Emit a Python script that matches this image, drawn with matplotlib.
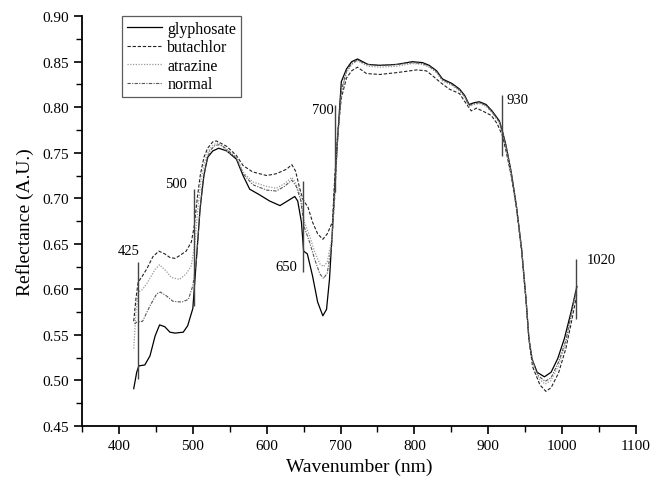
import matplotlib
matplotlib.use("Agg")
import matplotlib.pyplot as plt
from matplotlib.ticker import MultipleLocator

plt.rcParams['font.family'] = ['Liberation Serif', 'DejaVu Serif']

# spectra (wavelength nm, reflectance)
glyphosate_wl = [420, 424, 427, 435, 442, 449, 455, 462, 469, 476,
                 487, 493, 500, 505, 510, 515, 520, 527, 535, 546,
                 559, 568, 577, 590, 604, 618, 628, 638, 642, 647,
                 650, 655, 662, 669, 676, 681, 685, 689, 694, 701,
                 708, 715, 723, 730, 737, 753, 776, 797, 811, 820,
                 830, 838, 851, 861, 868, 874, 881, 888, 897, 905,
                 915, 919, 924, 931, 938, 945, 951, 955, 959, 966,
                 976, 985, 994, 1003, 1012, 1020]
glyphosate = [0.491, 0.509, 0.516, 0.517, 0.527, 0.549, 0.561, 0.559, 0.553, 0.552,
              0.553, 0.560, 0.579, 0.635, 0.690, 0.725, 0.745, 0.752, 0.755, 0.752,
              0.743, 0.725, 0.710, 0.704, 0.697, 0.692, 0.697, 0.702, 0.697, 0.674,
              0.642, 0.639, 0.615, 0.586, 0.571, 0.578, 0.611, 0.666, 0.740, 0.828,
              0.842, 0.850, 0.853, 0.850, 0.847, 0.846, 0.847, 0.850, 0.849, 0.846,
              0.840, 0.831, 0.826, 0.820, 0.813, 0.803, 0.805, 0.806, 0.803, 0.796,
              0.785, 0.774, 0.758, 0.729, 0.692, 0.645, 0.590, 0.546, 0.524, 0.509,
              0.504, 0.509, 0.524, 0.546, 0.575, 0.603]

butachlor_wl = [420, 423, 426, 432, 438, 446, 454, 462, 469, 476,
                482, 491, 498, 502, 506, 510, 515, 520, 527, 532,
                546, 559, 568, 581, 600, 613, 627, 634, 639, 645,
                649, 656, 662, 669, 676, 682, 689, 692, 696, 701,
                708, 715, 723, 735, 753, 776, 803, 816, 824, 834,
                847, 861, 870, 877, 884, 892, 904, 912, 919, 924,
                931, 938, 945, 951, 955, 960, 970, 978, 985, 995,
                1005, 1012, 1020]
butachlor = [0.565, 0.590, 0.608, 0.615, 0.623, 0.636, 0.642, 0.639, 0.635, 0.634,
             0.637, 0.642, 0.652, 0.670, 0.700, 0.725, 0.745, 0.755, 0.762, 0.763,
             0.757, 0.747, 0.736, 0.729, 0.725, 0.727, 0.732, 0.737, 0.730, 0.710,
             0.699, 0.690, 0.674, 0.661, 0.655, 0.661, 0.674, 0.721, 0.770, 0.810,
             0.832, 0.840, 0.844, 0.837, 0.836, 0.838, 0.841, 0.840, 0.835, 0.828,
             0.820, 0.815, 0.804, 0.796, 0.799, 0.796, 0.791, 0.782, 0.769, 0.752,
             0.725, 0.690, 0.643, 0.588, 0.545, 0.515, 0.495, 0.488, 0.492, 0.508,
             0.535, 0.562, 0.595]

atrazine_wl = [420, 423, 426, 432, 439, 449, 455, 464, 471, 482,
               491, 498, 503, 507, 511, 516, 521, 528, 535, 546,
               559, 568, 581, 600, 613, 624, 634, 640, 646, 651,
               658, 665, 672, 677, 682, 688, 692, 696, 701, 708,
               715, 723, 730, 737, 753, 776, 797, 811, 820, 830,
               838, 851, 861, 868, 874, 881, 888, 897, 905, 915,
               919, 924, 931, 938, 945, 951, 955, 960, 968, 977,
               985, 995, 1005, 1012, 1020]
atrazine = [0.535, 0.575, 0.597, 0.600, 0.608, 0.622, 0.627, 0.620, 0.613, 0.611,
            0.617, 0.626, 0.652, 0.690, 0.720, 0.740, 0.752, 0.759, 0.761, 0.752,
            0.745, 0.729, 0.718, 0.713, 0.711, 0.716, 0.723, 0.716, 0.703, 0.674,
            0.659, 0.641, 0.628, 0.625, 0.630, 0.655, 0.703, 0.765, 0.815, 0.838,
            0.847, 0.851, 0.848, 0.845, 0.844, 0.845, 0.848, 0.847, 0.844, 0.838,
            0.829, 0.824, 0.818, 0.811, 0.801, 0.803, 0.804, 0.801, 0.794, 0.783,
            0.772, 0.756, 0.727, 0.691, 0.645, 0.590, 0.546, 0.520, 0.502, 0.496,
            0.500, 0.516, 0.541, 0.568, 0.600]

normal_wl = [421, 424, 432, 442, 451, 456, 464, 473, 485, 494,
             500, 505, 509, 513, 518, 523, 530, 537, 546, 559,
             568, 581, 600, 613, 624, 634, 640, 646, 651, 658,
             665, 672, 677, 682, 688, 692, 696, 701, 708, 715,
             723, 730, 737, 753, 776, 797, 811, 820, 830, 838,
             851, 861, 868, 874, 881, 888, 897, 905, 915, 919,
             924, 931, 938, 945, 951, 955, 960, 968, 977, 985,
             995, 1005, 1012, 1020]
normal = [0.562, 0.564, 0.565, 0.582, 0.595, 0.597, 0.593, 0.587, 0.586, 0.589,
          0.604, 0.633, 0.680, 0.715, 0.738, 0.752, 0.758, 0.759, 0.754, 0.744,
          0.727, 0.715, 0.709, 0.708, 0.713, 0.720, 0.713, 0.698, 0.668, 0.652,
          0.633, 0.617, 0.612, 0.618, 0.648, 0.700, 0.765, 0.818, 0.840, 0.848,
          0.852, 0.849, 0.847, 0.846, 0.847, 0.849, 0.848, 0.845, 0.839, 0.830,
          0.825, 0.819, 0.812, 0.802, 0.804, 0.805, 0.802, 0.795, 0.784, 0.773,
          0.757, 0.728, 0.692, 0.645, 0.590, 0.546, 0.522, 0.505, 0.499, 0.503,
          0.520, 0.544, 0.572, 0.605]

# characteristic band markers
band_labels = ["425", "500", "650", "700", "930", "1020"]
band_x = [426, 501, 649, 693, 919, 1019]
band_lo = [0.502, 0.582, 0.619, 0.707, 0.747, 0.567]
band_hi = [0.630, 0.710, 0.719, 0.802, 0.813, 0.633]
band_text_x = [413, 477, 626, 676, 940, 1053]
band_text_y = [0.643, 0.716, 0.625, 0.798, 0.809, 0.633]

fig = plt.figure(figsize=(6.51, 4.81), dpi=100)
ax = fig.add_axes([0.126, 0.1123, 0.851, 0.852])

ax.plot(glyphosate_wl, glyphosate, color='black', lw=0.9, ls='-', label='glyphosate')
ax.plot(butachlor_wl, butachlor, color='#222222', lw=0.8, ls=(0, (3, 1.6)), label='butachlor')
ax.plot(atrazine_wl, atrazine, color='#999999', lw=0.9, ls=(0, (1, 1.2)), label='atrazine')
ax.plot(normal_wl, normal, color='#555555', lw=0.8, ls=(0, (3, 1.2, 1, 1.2)), label='normal')

for x, lo, hi in zip(band_x, band_lo, band_hi):
    ax.vlines(x, lo, hi, color='#444444', lw=1.0)
for t, tx, ty in zip(band_labels, band_text_x, band_text_y):
    ax.text(tx, ty, t, ha='center', va='center', fontsize=10.5)

ax.set_xlim(350, 1100)
ax.set_ylim(0.45, 0.90)
ax.xaxis.set_major_locator(MultipleLocator(100))
ax.xaxis.set_minor_locator(MultipleLocator(50))
ax.yaxis.set_major_locator(MultipleLocator(0.05))
ax.yaxis.set_minor_locator(MultipleLocator(0.025))
ax.yaxis.set_major_formatter(plt.FormatStrFormatter('%.2f'))
ax.set_xticks([400, 500, 600, 700, 800, 900, 1000, 1100])

for side in ['top', 'right']:
    ax.spines[side].set_visible(False)
for side in ['left', 'bottom']:
    ax.spines[side].set_linewidth(1.3)
ax.tick_params(which='major', direction='out', length=6, width=1.2, labelsize=11)
ax.tick_params(which='minor', direction='out', length=4, width=1.0)

ax.set_xlabel('Wavenumber (nm)', fontsize=14, labelpad=4)
ax.set_ylabel('Reflectance (A.U.)', fontsize=14, labelpad=6)

leg = ax.legend(loc='upper left', bbox_to_anchor=(0.072, 1.0), borderaxespad=0,
                fontsize=11.5, frameon=True, fancybox=False, handlelength=2.2,
                handletextpad=0.35, labelspacing=0.15, borderpad=0.3)
leg.get_frame().set_edgecolor('#333333')
leg.get_frame().set_linewidth(0.9)

fig.savefig('out.png', dpi=100)
